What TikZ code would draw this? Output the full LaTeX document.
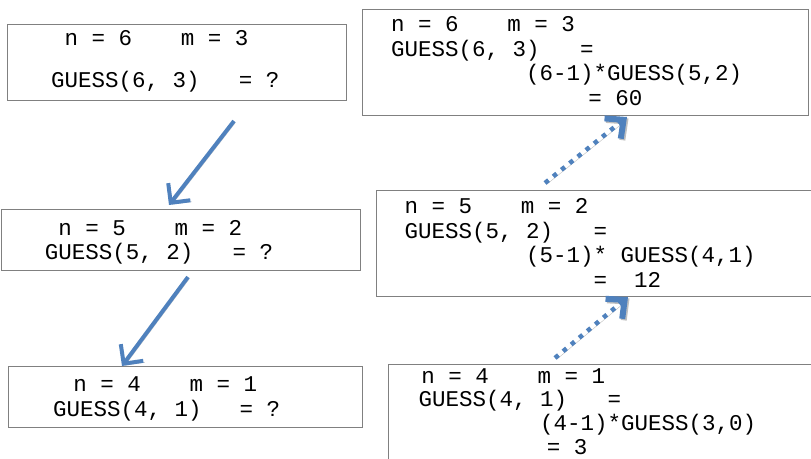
\documentclass[tikz,border=0pt]{standalone}
\usepackage{fontspec}
\usetikzlibrary{arrows.meta, positioning}
\newfontfamily\codefont{Liberation Mono}[WordSpace={1,0,0}]
\definecolor{edge}{RGB}{128,128,128}
\definecolor{arrowblue}{RGB}{79,129,189}
\newcommand\cols[1]{\hspace*{#1\dimexpr.6em\relax}}
\tikzstyle{askbox} = [rectangle, draw=edge, line width=1.4pt, anchor=north west, inner sep=0pt]
\tikzstyle{codetext} = [font=\codefont\fontsize{22.5}{24.5}\selectfont, align=left, inner sep=0pt, anchor=north west]
\tikzstyle{softshadow} = [preaction={draw=black!25, transform canvas={xshift=1.5pt,yshift=-1.5pt}}]
\tikzstyle{callarrow} = [softshadow, line width=4pt, draw=arrowblue, -{Straight Barb[length=14pt,width=28pt]}]
\tikzstyle{returnarrow} = [softshadow, line width=4.5pt, draw=arrowblue, dash pattern=on 4.5pt off 6pt, -{Straight Barb[length=14pt,width=26pt,line width=6pt]}]

\begin{document}
\begin{tikzpicture}[x=1pt, y=-1pt]
    \useasboundingbox (0,0) rectangle (811,458);
    \clip (0,0) rectangle (811,458);
    % left column: calls going down
    \node (q6) [askbox, minimum width=339pt, minimum height=76pt] at (7,24) {};
    \node (q5) [askbox, minimum width=359pt, minimum height=61pt] at (0.7,209) {};
    \node (q4) [askbox, minimum width=354pt, minimum height=61pt] at (8,366) {};
    \node (q6t) [codetext, xshift=44pt, yshift=-4pt] at (q6.north west)
        {\rule{0pt}{17pt}\cols{1}n = 6\cols{3.6}m = 3\\[17.5pt]
         GUESS(6, 3)\cols{2.9}= ?};
    \node (q5t) [codetext, xshift=44pt, yshift=-9pt] at (q5.north west)
        {\rule{0pt}{17pt}\cols{1}n = 5\cols{3.6}m = 2\\
         GUESS(5, 2)\cols{2.9}= ?};
    \node (q4t) [codetext, xshift=45pt, yshift=-8.7pt] at (q4.north west)
        {\rule{0pt}{17pt}\cols{1.5}n = 4\cols{3.6}m = 1\\
         GUESS(4, 1)\cols{2.8}= ?};

    % right column: results going up
    \node (r6) [askbox, minimum width=446pt, minimum height=106pt] at (362,9) {};
    \node (r5) [askbox, minimum width=445pt, minimum height=106pt] at (376,190) {};
    \node (r4) [askbox, minimum width=440pt, minimum height=110pt] at (388,364) {};
    \node (r6t) [codetext, xshift=29pt, yshift=-5.5pt] at (r6.north west)
        {\rule{0pt}{17pt}n = 6\cols{3.6}m = 3\\
         GUESS(6, 3)\cols{3}=\\
         \cols{10}(6-1)*GUESS(5,2)\\
         \cols{14.6}= 60};
    \node (r5t) [codetext, xshift=28.5pt, yshift=-6.5pt] at (r5.north west)
        {\rule{0pt}{17pt}n = 5\cols{3.6}m = 2\\
         GUESS(5, 2)\cols{3}=\\
         \cols{9}(5-1)* GUESS(4,1)\\
         \cols{14}=\cols{2}12};
    \node (r4t) [codetext, xshift=30.5pt, yshift=-2pt,
                 font=\codefont\fontsize{22.5}{23.6}\selectfont] at (r4.north west)
        {\rule{0pt}{17pt}\cols{0.2}n = 4\cols{3.6}m = 1\\
         GUESS(4, 1)\cols{3}=\\
         \cols{9}(4-1)*GUESS(3,0)\\
         \cols{9.5}= 3};

    % arrow ends
    \coordinate (c1s) at (234,121);
    \coordinate (c1e) at (169,205);
    \coordinate (c2s) at (188,277);
    \coordinate (c2e) at (122,366);
    \coordinate (u1s) at (545,183);
    \coordinate (u1e) at (627,117);
    \coordinate (u2s) at (555,358);
    \coordinate (u2e) at (628,297);

    \draw [callarrow] (c1s) -- (c1e);
    \draw [callarrow] (c2s) -- (c2e);
    \draw [returnarrow] (u1s) -- (u1e);
    \draw [returnarrow] (u2s) -- (u2e);
\end{tikzpicture}
\end{document}
